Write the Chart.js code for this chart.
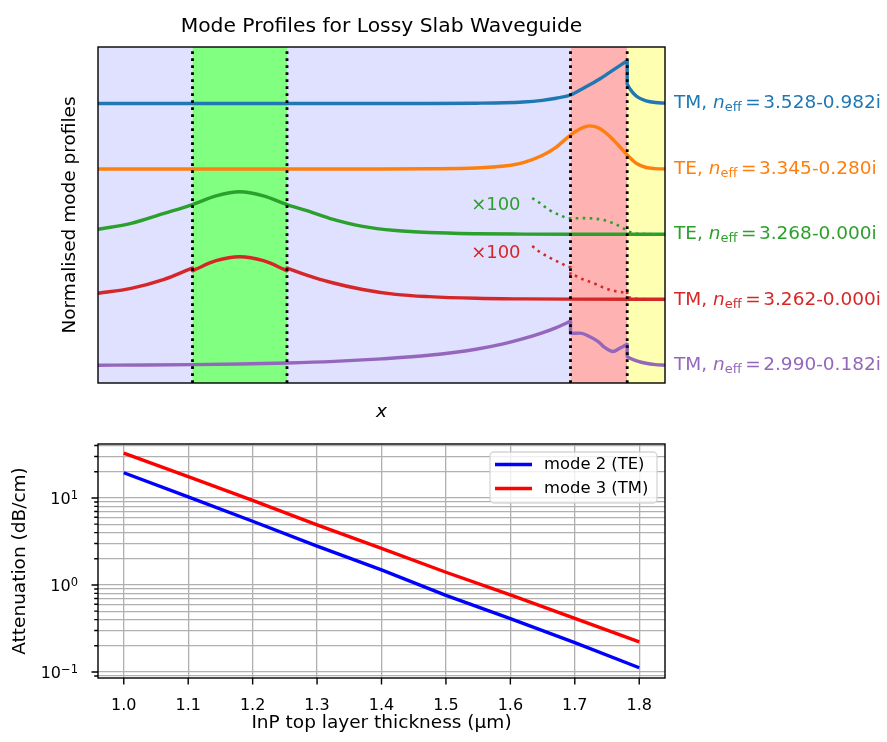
<!DOCTYPE html>
<html>
<head>
<meta charset="utf-8">
<title>Mode Profiles for Lossy Slab Waveguide</title>
<script src="https://cdn.jsdelivr.net/npm/chart.js@4.4.1/dist/chart.umd.min.js"></script>
<style>
  html, body { margin: 0; padding: 0; background: #fff; }
  #wrap { position: relative; width: 887px; height: 742px; }
  canvas { position: absolute; left: 0; }
  #profiles { top: 0; }
  #atten { top: 430px; }
</style>
</head>
<body>
<div id="wrap">
  <canvas id="profiles" width="887" height="430"></canvas>
  <canvas id="atten" width="887" height="312"></canvas>
</div>
<script>
// ---------- layer stack (x across the slab) ----------
const layerEdges = [0, 1, 2, 5, 5.6, 6];

// ---------- guided modes, stacked one above another ----------
const modePol    = ['TM', 'TE', 'TE', 'TM', 'TM'];
const modeNeff   = ['3.528-0.982i', '3.345-0.280i', '3.268-0.000i', '3.262-0.000i', '2.990-0.182i'];
const modeOffset = [4, 3, 2, 1, 0];

const mode1X = [0, 1, 2, 3, 3.5, 4.0, 4.3, 4.5, 4.7, 4.85, 5.0, 5.15, 5.3, 5.45, 5.58, 5.6, 5.6, 5.61, 5.63, 5.67, 5.72, 5.8, 5.9, 6.0];
const mode1Y = [4.0, 4.0, 4.0, 4.0, 4.001, 4.005, 4.011, 4.023, 4.049, 4.081, 4.13, 4.244, 4.366, 4.511, 4.634, 4.653, 4.298, 4.269, 4.221, 4.15, 4.09, 4.041, 4.015, 4.006];

const mode2X = [0, 1, 2, 3, 3.5, 4.0, 4.3, 4.5, 4.7, 4.85, 5.0, 5.1, 5.2, 5.3, 5.4, 5.5, 5.6, 5.7, 5.8, 5.9, 6.0];
const mode2Y = [3.0, 3.0, 3.0, 3.0, 3.003, 3.015, 3.046, 3.099, 3.206, 3.336, 3.519, 3.611, 3.658, 3.626, 3.519, 3.374, 3.214, 3.084, 3.023, 3.006, 3.0];

const mode3X = [0, 0.35, 0.7, 1.0, 1.25, 1.5, 1.75, 2.0, 2.2, 2.45, 2.8, 3.15, 3.5, 4.0, 4.5, 5.0, 6.0];
const mode3Y = [2.079, 2.171, 2.324, 2.458, 2.59, 2.653, 2.59, 2.458, 2.369, 2.247, 2.125, 2.061, 2.030, 2.012, 2.006, 2.003, 2.003];

const mode4X = [0, 0.35, 0.7, 0.97, 1.0, 1.0, 1.03, 1.25, 1.5, 1.75, 1.97, 2.0, 2.0, 2.03, 2.2, 2.45, 2.8, 3.15, 3.5, 4.0, 4.5, 5.0, 6.0];
const mode4Y = [1.103, 1.179, 1.316, 1.472, 1.489, 1.447, 1.467, 1.6, 1.661, 1.6, 1.467, 1.447, 1.489, 1.472, 1.385, 1.275, 1.161, 1.086, 1.051, 1.026, 1.017, 1.013, 1.011];

const mode5X = [0, 0.5, 1.0, 1.5, 2.0, 2.5, 3.0, 3.5, 4.0, 4.3, 4.5, 4.7, 4.85, 4.97, 5.0, 5.0, 5.1, 5.2, 5.3, 5.35, 5.45, 5.52, 5.58, 5.6, 5.6, 5.61, 5.63, 5.7, 5.8, 5.9, 6.0];
const mode5Y = [0.005, 0.008, 0.014, 0.023, 0.038, 0.063, 0.102, 0.156, 0.249, 0.334, 0.409, 0.499, 0.579, 0.657, 0.675, 0.49, 0.495, 0.443, 0.357, 0.29, 0.214, 0.262, 0.31, 0.327, 0.137, 0.128, 0.112, 0.072, 0.034, 0.014, 0.005];

// tails of modes 3 and 4 magnified x100
const mode3TailX = [4.595, 4.672, 4.778, 4.884, 4.99, 5.13, 5.24, 5.347, 5.453, 5.56, 5.6, 5.65, 5.8, 6.0];
const mode3TailY = [2.557, 2.485, 2.374, 2.298, 2.247, 2.25, 2.245, 2.221, 2.171, 2.095, 2.058, 2.027, 2.008, 2.003];

const mode4TailX = [4.595, 4.672, 4.778, 4.884, 5.0, 5.0, 5.13, 5.24, 5.347, 5.47, 5.56, 5.6, 5.6, 5.7, 5.85, 6.0];
const mode4TailY = [1.824, 1.737, 1.649, 1.573, 1.504, 1.389, 1.316, 1.26, 1.191, 1.137, 1.118, 1.137, 1.041, 1.02, 1.011, 1.011];

// ---------- attenuation versus InP top layer thickness ----------
const thickness = [1.0, 1.1, 1.2, 1.3, 1.4, 1.5, 1.6, 1.7, 1.8];
const attenTE   = [19.5, 10.3, 5.4, 2.8, 1.49, 0.76, 0.41, 0.218, 0.112];
const attenTM   = [32.7, 17.6, 9.4, 4.9, 2.64, 1.40, 0.77, 0.414, 0.222];
const seriesNames = ['mode 2 (TE)', 'mode 3 (TM)'];

const thicknessTicks = [1.0, 1.1, 1.2, 1.3, 1.4, 1.5, 1.6, 1.7, 1.8];
const attenTicks = [0.09, 0.1, 0.2, 0.3, 0.4, 0.5, 0.6, 0.7, 0.8, 0.9,
                    1, 2, 3, 4, 5, 6, 7, 8, 9, 10, 20, 30, 40];
const attenDecades  = [0.1, 1, 10];
const attenDecadeExp = ['\u22121', '0', '1'];

// ---------- shared styling ----------
const FAMILY = "'DejaVu Sans', sans-serif";
Chart.defaults.font.family = FAMILY;
Chart.defaults.color = '#000';

const modeColors = ['#1f77b4', '#ff7f0e', '#2ca02c', '#d62728', '#9467bd'];
const layerFill  = ['rgb(224,224,255)', 'rgb(128,255,128)', 'rgb(224,224,255)', 'rgb(255,178,178)', 'rgb(255,255,178)'];
const LINE_W = 3.4;

const pts = (xs, ys) => xs.map((x, i) => ({ x, y: ys[i] }));

function curve(xs, ys, color, dotted) {
  return {
    data: pts(xs, ys),
    showLine: true,
    borderColor: color,
    borderWidth: dotted ? 2.6 : LINE_W,
    borderDash: dotted ? [2.6, 4.4] : [],
    borderCapStyle: 'butt',
    borderJoinStyle: 'round',
    pointRadius: 0,
    tension: 0.3,
    cubicInterpolationMode: 'monotone',
    fill: false
  };
}

// ---------- decorations for the profile panel ----------
const profileDecor = {
  id: 'profileDecor',
  beforeDatasetsDraw(chart) {
    const { ctx, chartArea: a, scales: { x } } = chart;
    ctx.save();
    for (let i = 0; i < layerEdges.length - 1; i++) {
      const x0 = x.getPixelForValue(layerEdges[i]);
      const x1 = x.getPixelForValue(layerEdges[i + 1]);
      ctx.fillStyle = layerFill[i];
      ctx.fillRect(x0, a.top, x1 - x0, a.bottom - a.top);
    }
    ctx.restore();
  },
  afterDatasetsDraw(chart) {
    const { ctx, chartArea: a, scales: { x } } = chart;
    ctx.save();
    // interfaces between layers
    ctx.strokeStyle = '#000';
    ctx.lineWidth = 2.8;
    ctx.setLineDash([2.8, 4.2]);
    for (let i = 1; i < layerEdges.length - 1; i++) {
      const px = x.getPixelForValue(layerEdges[i]);
      ctx.beginPath();
      ctx.moveTo(px, a.bottom);
      ctx.lineTo(px, a.top);
      ctx.stroke();
    }
    ctx.setLineDash([]);
    ctx.lineWidth = 1.4;
    ctx.strokeRect(a.left, a.top, a.right - a.left, a.bottom - a.top);
    ctx.restore();
  },
  afterDraw(chart) {
    const { ctx, chartArea: a, scales: { x, y } } = chart;
    const cx = (a.left + a.right) / 2;
    ctx.save();
    ctx.fillStyle = '#000';
    ctx.textAlign = 'center';
    ctx.textBaseline = 'alphabetic';
    ctx.font = '20.3px ' + FAMILY;
    ctx.fillText('Mode Profiles for Lossy Slab Waveguide', cx, 31.5);

    ctx.font = 'italic 18.5px ' + FAMILY;
    ctx.fillText('x', cx, 417);

    ctx.save();
    ctx.translate(75, (a.top + a.bottom) / 2);
    ctx.rotate(-Math.PI / 2);
    ctx.font = '18.5px ' + FAMILY;
    ctx.fillText('Normalised mode profiles', 0, 0);
    ctx.restore();

    // magnification notes next to the dotted tails
    ctx.font = '18px ' + FAMILY;
    ctx.fillStyle = modeColors[2];
    ctx.fillText('\u00D7100', x.getPixelForValue(4.21), y.getPixelForValue(2.374));
    ctx.fillStyle = modeColors[3];
    ctx.fillText('\u00D7100', x.getPixelForValue(4.21), y.getPixelForValue(1.641));

    // effective index of each mode, beside its profile
    ctx.textAlign = 'left';
    modePol.forEach((pol, i) => {
      const yb = y.getPixelForValue(modeOffset[i]) + 4.6;
      let px = a.right + 9;
      ctx.fillStyle = modeColors[i];
      ctx.font = '18.5px ' + FAMILY;
      ctx.fillText(pol + ', ', px, yb);
      px += ctx.measureText(pol + ', ').width;
      ctx.font = 'italic 18.5px ' + FAMILY;
      ctx.fillText('n', px, yb);
      px += ctx.measureText('n').width;
      ctx.font = '13px ' + FAMILY;
      ctx.fillText('eff', px, yb + 3);
      px += ctx.measureText('eff').width + 3.5;
      ctx.font = '18.5px ' + FAMILY;
      ctx.fillText('=', px, yb);
      px += ctx.measureText('=').width + 2.5;
      ctx.fillText(modeNeff[i], px, yb);
    });
    ctx.restore();
  }
};

new Chart(document.getElementById('profiles'), {
  type: 'scatter',
  data: {
    datasets: [
      curve(mode1X, mode1Y, modeColors[0]),
      curve(mode2X, mode2Y, modeColors[1]),
      curve(mode3X, mode3Y, modeColors[2]),
      curve(mode4X, mode4Y, modeColors[3]),
      curve(mode5X, mode5Y, modeColors[4]),
      curve(mode3TailX, mode3TailY, modeColors[2], true),
      curve(mode4TailX, mode4TailY, modeColors[3], true)
    ]
  },
  options: {
    responsive: false,
    animation: false,
    devicePixelRatio: 1,
    events: [],
    layout: { padding: { left: 98, right: 222, top: 47, bottom: 47 } },
    scales: {
      x: { type: 'linear', min: 0, max: 6, display: false },
      y: { type: 'linear', min: -0.267, max: 4.863, display: false }
    },
    plugins: { legend: { display: false }, tooltip: { enabled: false } }
  },
  plugins: [profileDecor]
});

// ---------- decorations for the attenuation panel ----------
const attenDecor = {
  id: 'attenDecor',
  afterDraw(chart) {
    const { ctx, chartArea: a, scales: { x, y } } = chart;
    ctx.save();
    ctx.strokeStyle = '#000';
    ctx.lineWidth = 1.4;
    ctx.beginPath();
    thicknessTicks.forEach(v => {
      const px = x.getPixelForValue(v);
      ctx.moveTo(px, a.bottom);
      ctx.lineTo(px, a.bottom + 6.5);
    });
    attenTicks.forEach(v => {
      const py = y.getPixelForValue(v);
      const len = attenDecades.includes(v) ? 6.5 : 3.8;
      ctx.moveTo(a.left, py);
      ctx.lineTo(a.left - len, py);
    });
    ctx.stroke();
    ctx.strokeRect(a.left, a.top, a.right - a.left, a.bottom - a.top);

    // tick labels
    ctx.fillStyle = '#000';
    ctx.textBaseline = 'alphabetic';
    ctx.textAlign = 'center';
    ctx.font = '16px ' + FAMILY;
    thicknessTicks.forEach(v => {
      ctx.fillText(v.toFixed(1), x.getPixelForValue(v), a.bottom + 32);
    });
    ctx.textAlign = 'left';
    attenDecades.forEach((v, i) => {
      const py = y.getPixelForValue(v);
      ctx.font = '16px ' + FAMILY;
      const wBase = ctx.measureText('10').width;
      ctx.font = '11.5px ' + FAMILY;
      const wExp = ctx.measureText(attenDecadeExp[i]).width;
      const x0 = a.left - 20 - wBase - wExp;
      ctx.font = '16px ' + FAMILY;
      ctx.fillText('10', x0, py + 6.5);
      ctx.font = '11.5px ' + FAMILY;
      ctx.fillText(attenDecadeExp[i], x0 + wBase, py + 1.5);
    });

    // axis titles
    ctx.textAlign = 'center';
    ctx.font = '18.5px ' + FAMILY;
    ctx.fillText('InP top layer thickness (\u03BCm)', (a.left + a.right) / 2, 298);
    ctx.save();
    ctx.translate(25, (a.top + a.bottom) / 2);
    ctx.rotate(-Math.PI / 2);
    ctx.fillText('Attenuation (dB/cm)', 0, 0);
    ctx.restore();

    // legend
    const lw = 167, lh = 51;
    const lx = a.right - 8 - lw, ly = a.top + 8;
    ctx.beginPath();
    ctx.roundRect(lx, ly, lw, lh, 4);
    ctx.fillStyle = 'rgba(255,255,255,0.8)';
    ctx.fill();
    ctx.strokeStyle = 'rgba(204,204,204,0.8)';
    ctx.lineWidth = 1.3;
    ctx.stroke();
    const legendColors = ['#0000ff', '#ff0000'];
    ctx.font = '16.4px ' + FAMILY;
    ctx.textAlign = 'left';
    ctx.textBaseline = 'middle';
    seriesNames.forEach((name, i) => {
      const ry = ly + 12.5 + i * 24;
      ctx.strokeStyle = legendColors[i];
      ctx.lineWidth = LINE_W;
      ctx.beginPath();
      ctx.moveTo(lx + 5, ry);
      ctx.lineTo(lx + 42, ry);
      ctx.stroke();
      ctx.fillStyle = '#000';
      ctx.fillText(name, lx + 54, ry + 0.5);
    });
    ctx.restore();
  }
};

new Chart(document.getElementById('atten'), {
  type: 'scatter',
  data: {
    datasets: [
      { label: seriesNames[0], data: pts(thickness, attenTE), showLine: true,
        borderColor: '#0000ff', borderWidth: LINE_W, pointRadius: 0, borderCapStyle: 'butt' },
      { label: seriesNames[1], data: pts(thickness, attenTM), showLine: true,
        borderColor: '#ff0000', borderWidth: LINE_W, pointRadius: 0, borderCapStyle: 'butt' }
    ]
  },
  options: {
    responsive: false,
    animation: false,
    devicePixelRatio: 1,
    events: [],
    layout: { padding: { left: 0, right: 222, top: 14, bottom: 0 } },
    scales: {
      x: {
        type: 'linear', min: 0.96, max: 1.84,
        afterBuildTicks: s => { s.ticks = thicknessTicks.map(v => ({ value: v })); },
        afterFit: s => { s.height = 64; },
        ticks: { display: false },
        grid: { color: '#b0b0b0', lineWidth: 1.3, drawTicks: false },
        border: { display: false }
      },
      y: {
        type: 'logarithmic', min: 0.0853, max: 41.7,
        afterBuildTicks: s => { s.ticks = attenTicks.map(v => ({ value: v })); },
        afterFit: s => { s.width = 98; },
        ticks: { display: false },
        grid: { color: '#b0b0b0', lineWidth: 1.3, drawTicks: false },
        border: { display: false }
      }
    },
    plugins: { legend: { display: false }, tooltip: { enabled: false } }
  },
  plugins: [attenDecor]
});
</script>
</body>
</html>
